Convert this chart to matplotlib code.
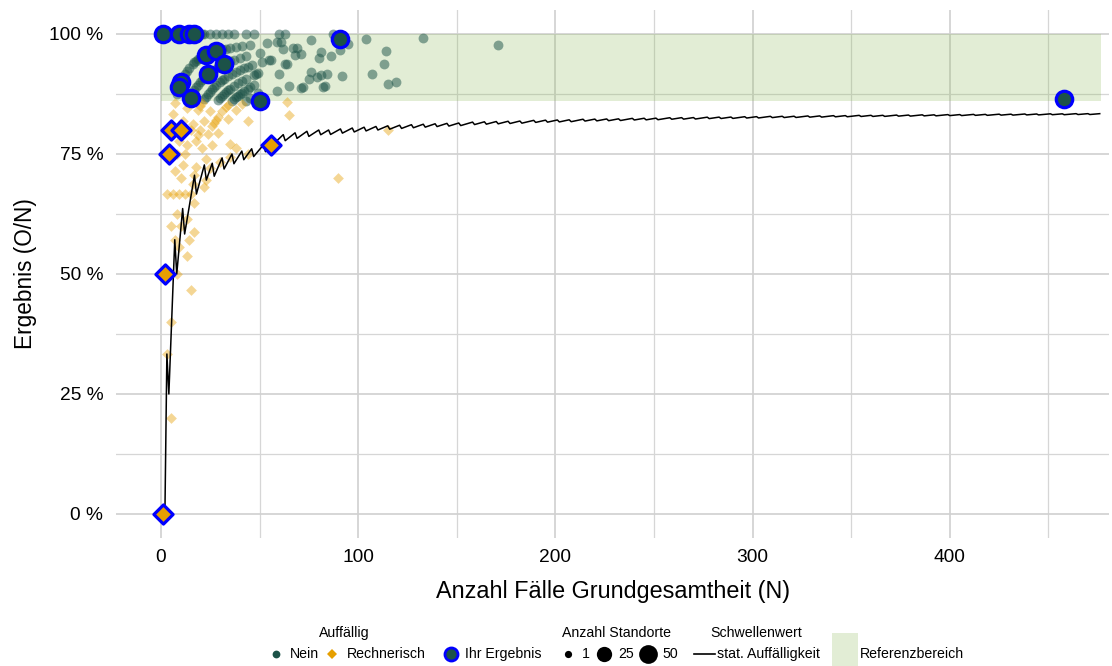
import matplotlib
matplotlib.use("Agg")
import matplotlib.pyplot as plt
from matplotlib.lines import Line2D
from matplotlib.patches import Rectangle

plt.rcParams['font.family'] = ['Liberation Sans', 'DejaVu Sans']

# ---------------- data ----------------
# "Nein" (within reference range) sites: N cases, O events
nein_N = [2,3,4,5,6,7,8,10,11,12,13,15,16,18,19,20,21,22,25,28,31,34,37,43,47,60,63,87,
          8,11,12,13,14,16,17,18,19,20,21,22,23,25,26,28,29,31,33,35,38,41,45,54,59,61,76,104,133,
          15,16,17,18,19,20,21,22,23,25,26,27,29,30,31,33,35,37,40,43,50,62,67,69,95,
          22,23,24,25,26,27,28,30,31,32,34,36,38,40,42,44,46,51,55,56,68,71,81,91,
          29,30,31,32,33,34,35,37,39,41,43,47,48,49,63,64,80,86,114,171,
          36,37,38,39,40,41,42,44,45,47,60,
          43,45,49,76,
          59,65,75,79,81,84,113,
          71,72,92,82,83,107,115,119]
nein_O = [2,3,4,5,6,7,8,10,11,12,13,15,16,18,19,20,21,22,25,28,31,34,37,43,47,60,63,87,
          7,10,11,12,13,15,16,17,18,19,20,21,22,24,25,27,28,30,32,34,37,40,44,53,58,60,75,103,132,
          13,14,15,16,17,18,19,20,21,23,24,25,27,28,29,31,33,35,38,41,48,60,65,67,93,
          19,20,21,22,23,24,25,27,28,29,31,33,35,37,39,41,43,48,52,53,65,68,78,88,
          25,26,27,28,29,30,31,33,35,37,39,43,44,45,59,60,76,82,110,167,
          31,32,33,34,35,36,37,39,40,42,55,
          37,39,43,70,
          52,58,68,72,74,77,106,
          63,64,84,73,74,98,103,107]

# "Rechnerisch" (below reference range) sites
rech_N = [3,5,5,3,6,9,12,8,5,10,13,17,7,14,9,13,15,17,8,7,11,17,64,65,90,115,44,38,34,34,
          29,25,26,20,24,29,35,44,26,21,18,11,6,13,12,18,8,10,16,22,15,23,25,30,35,23,38,
          7,14,20,19,16,15,9,13,19,22,27,28,31,33,41,21]
rech_O = [1,1,2,2,4,6,8,5,3,6,8,10,4,8,5,7,7,11,4,5,8,12,55,54,63,92,36,32,28,29,
          24,21,21,16,19,23,27,33,20,16,14,9,5,11,9,13,6,7,11,15,10,16,18,22,26,17,29,
          6,12,17,16,13,12,7,10,15,18,22,23,26,28,35,18]

# "Ihr Ergebnis" (own sites)
own_nein_N = [1,9,14,17,23,28,32,24,10,9,15,50,91,458]
own_nein_O = [1,9,14,17,22,27,30,22,9,8,13,43,90,396]
own_rech_N = [1,2,4,5,10,56]
own_rech_O = [0,1,3,4,8,43]

# reference range (percent) and its right end (N)
ref_low, ref_high, ref_N_max = 86, 100, 476.5

# threshold line "stat. Auffälligkeit": vertices of the sawtooth (N, threshold count)
line_N = [1,2,3,4,7,8,11,12,17,18,22,23,26,27,31,32,36,37,41,42,46,47,52,53,62,63,
          68,69,74,75,80,81,85,86,91,92,97,98,103,104,109,110,115,116,121,122,127,128,
          133,134,139,140,145,146,151,152,158,159,164,165,170,171,176,177,182,183,189,190,
          195,196,201,202,207,208,214,215,220,221,226,227,232,233,239,240,245,246,251,252,
          258,259,264,265,270,271,277,278,283,284,289,290,296,297,302,303,309,310,315,316,
          321,322,328,329,334,335,341,342,347,348,354,355,360,361,366,367,373,374,379,380,
          386,387,392,393,399,400,405,406,412,413,418,419,425,426,431,432,438,439,444,445,
          451,452,457,458,464,465,470,471,476]
line_O = [0,0,1,1,4,4,7,7,12,12,16,16,19,19,23,23,27,27,31,31,35,35,40,40,49,49,
          54,54,59,59,64,64,68,68,73,73,78,78,83,83,88,88,93,93,98,98,103,103,
          108,108,113,113,118,118,123,123,129,129,134,134,139,139,144,144,149,149,155,155,
          160,160,165,165,170,170,176,176,181,181,186,186,191,191,197,197,202,202,207,207,
          213,213,218,218,223,223,229,229,234,234,239,239,245,245,250,250,256,256,261,261,
          266,266,272,272,277,277,283,283,288,288,294,294,299,299,304,304,310,310,315,315,
          321,321,326,326,332,332,337,337,343,343,348,348,354,354,359,359,365,365,370,370,
          376,376,381,381,387,387,392,392,397]

# ---------------- figure ----------------
W, H = 1112, 666
fig = plt.figure(figsize=(W / 100, H / 100), dpi=100)
x0, x1, y0, y1 = 115.8, 1109.4, 10, 538
ax = fig.add_axes([x0 / W, 1 - y1 / H, (x1 - x0) / W, (y1 - y0) / H])
ax.set_xlim(-22.9, 480.9)
ax.set_ylim(-5, 105)

green = '#1c5248'
orange = '#E69F00'
blue = '#0000FF'
refcol = (0.55, 0.73, 0.35)

ax.add_patch(Rectangle((0, ref_low), ref_N_max, ref_high - ref_low, facecolor=refcol,
                       alpha=0.25, lw=0, zorder=1))


def pct(O, N):
    return [100.0 * o / n for o, n in zip(O, N)]


ax.scatter(nein_N, pct(nein_O, nein_N), s=50, color=green, alpha=0.5, lw=0, zorder=2)
ax.scatter(rech_N, pct(rech_O, rech_N), s=30, marker='D', color=orange, alpha=0.42, lw=0, zorder=2)
ax.plot(line_N, pct(line_O, line_N), color='black', lw=1.1, zorder=3)
ax.scatter(own_nein_N, pct(own_nein_O, own_nein_N), s=140, color=green, edgecolors=blue,
           linewidths=2.3, zorder=4)
ax.scatter(own_rech_N, pct(own_rech_O, own_rech_N), s=95, marker='D', color=orange,
           edgecolors=blue, linewidths=2.3, zorder=4)

ax.set_xticks([0, 100, 200, 300, 400])
ax.set_xticks([50, 150, 250, 350, 450], minor=True)
ax.set_yticks([0, 25, 50, 75, 100])
ax.set_yticklabels(['0 %', '25 %', '50 %', '75 %', '100 %'])
ax.set_yticks([12.5, 37.5, 62.5, 87.5], minor=True)
ax.set_axisbelow(True)
ax.grid(which='major', color='#d0d0d0', lw=1.2)
ax.grid(which='minor', color='#d6d6d6', lw=0.9)
ax.tick_params(which='both', length=0, labelsize=13.8, colors='black')
ax.tick_params(axis='y', pad=9)
ax.tick_params(axis='x', pad=8)
for s in ax.spines.values():
    s.set_visible(False)
ax.set_xlabel('Anzahl Fälle Grundgesamtheit (N)', fontsize=16.8, labelpad=10)
ax.set_ylabel('Ergebnis (O/N)', fontsize=16.3, labelpad=9)

# ---------------- legend (figure pixel coords) ----------------
def P(x, y):
    return (x / W, 1 - y / H)


fs = 10.2
ty, ey = 633, 654


def mark(x, y, **kw):
    fig.add_artist(Line2D([P(x, y)[0]], [P(x, y)[1]], transform=fig.transFigure, ls='none', **kw))


def txt(x, y, s, ha='left'):
    fig.text(*P(x, y), s, ha=ha, va='center', fontsize=fs)


txt(344, ty, 'Auffällig', ha='center')
mark(276, ey, marker='o', ms=5.6, color=green, mew=0)
txt(290, ey, 'Nein')
mark(331.5, ey, marker='D', ms=4.6, color=orange, mew=0)
txt(347, ey, 'Rechnerisch')
mark(451.5, ey, marker='o', ms=9.4, mfc=green, mec=blue, mew=2.0)
txt(465, ey, 'Ihr Ergebnis')

txt(617, ty, 'Anzahl Standorte', ha='center')
mark(568.3, ey, marker='o', ms=5.2, color='black', mew=0)
txt(581.5, ey, '1')
mark(603.8, ey, marker='o', ms=11.0, color='black', mew=0)
txt(618.5, ey, '25')
mark(647.7, ey, marker='o', ms=13.5, color='black', mew=0)
txt(662.5, ey, '50')

txt(756, ty, 'Schwellenwert', ha='center')
fig.add_artist(Line2D([P(694, ey)[0], P(715, ey)[0]], [P(694, ey)[1], P(715, ey)[1]],
                      transform=fig.transFigure, color='black', lw=1.2))
txt(717, ey, 'stat. Auffälligkeit')

fig.add_artist(Rectangle(P(832, 666), 26 / W, 33 / H, transform=fig.transFigure,
                         facecolor=refcol, alpha=0.25, lw=0))
txt(860, ey, 'Referenzbereich')

fig.savefig('out.png', dpi=100)
